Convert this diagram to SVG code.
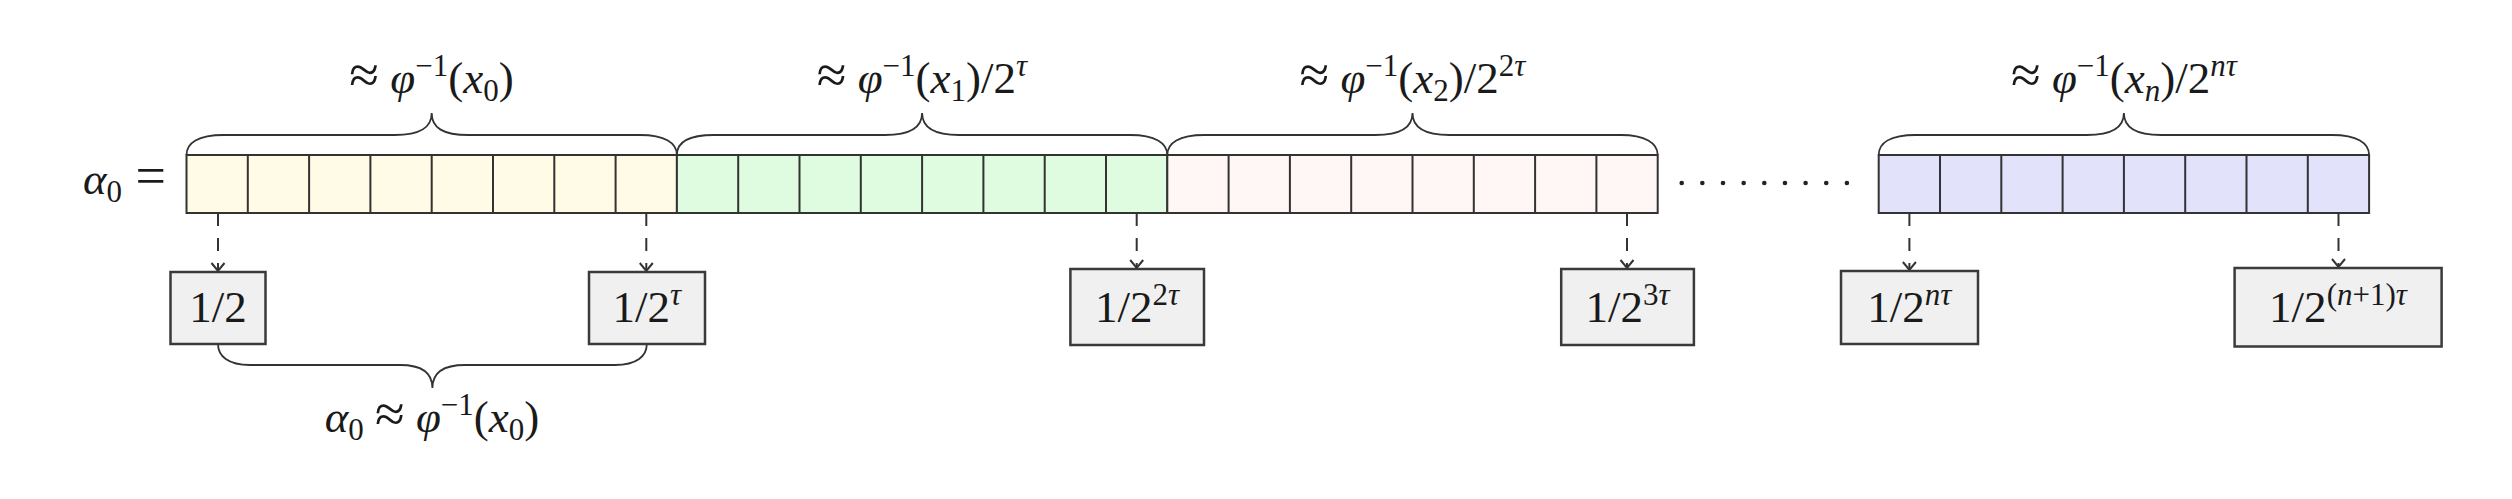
<svg xmlns="http://www.w3.org/2000/svg" width="2512" height="499" viewBox="0 0 2512 499">
<defs>
<style>
.t{font-family:"Liberation Serif","DejaVu Serif",serif;font-size:45px;fill:#1a1a1a}
.i{font-style:italic}
.s{font-size:31px}
.op{font-size:54px}
.cell{stroke:#333;stroke-width:2}
.brace{fill:none;stroke:#333;stroke-width:1.8}
.box{fill:#f0f0f0;stroke:#3a3a3a;stroke-width:2.5}
.dash{stroke:#333;stroke-width:2;stroke-dasharray:13 12;fill:none}
</style>
<marker id="chev" markerUnits="userSpaceOnUse" markerWidth="20" markerHeight="20" refX="0" refY="0" viewBox="-10 -10 20 20" orient="auto" overflow="visible">
<path d="M-8,-6.5 L0,0 L-8,6.5" fill="none" stroke="#333" stroke-width="2"/>
</marker>
</defs>
<rect width="2512" height="499" fill="#fff"/>

<g id="alpha-label">
<text class="t" x="166" y="194" text-anchor="end"><tspan class="i">α</tspan><tspan class="s" dy="8">0</tspan><tspan dy="-8" class="op"> =</tspan></text>
</g>

<g id="segment-yellow">
<rect x="186.5" y="155" width="490.4" height="58" fill="#fffbe6" class="cell"/>
<path class="cell" d="M247.8,155V213M309.1,155V213M370.4,155V213M431.7,155V213M493,155V213M554.3,155V213M615.6,155V213"/>
</g>
<g id="segment-green">
<rect x="676.9" y="155" width="490.4" height="58" fill="#e0fce0" class="cell"/>
<path class="cell" d="M738.2,155V213M799.5,155V213M860.8,155V213M922.1,155V213M983.4,155V213M1044.7,155V213M1106,155V213"/>
</g>
<g id="segment-pink">
<rect x="1167.3" y="155" width="490.4" height="58" fill="#fff6f6" class="cell"/>
<path class="cell" d="M1228.6,155V213M1289.9,155V213M1351.2,155V213M1412.5,155V213M1473.8,155V213M1535.1,155V213M1596.4,155V213"/>
</g>
<g id="dots" fill="#222">
<circle cx="1681.7" cy="183" r="2.3"/><circle cx="1702.35" cy="183" r="2.3"/><circle cx="1723" cy="183" r="2.3"/><circle cx="1743.65" cy="183" r="2.3"/><circle cx="1764.3" cy="183" r="2.3"/><circle cx="1784.95" cy="183" r="2.3"/><circle cx="1805.6" cy="183" r="2.3"/><circle cx="1826.25" cy="183" r="2.3"/><circle cx="1846.9" cy="183" r="2.3"/>
</g>
<g id="segment-blue">
<rect x="1878.7" y="155" width="490.4" height="58" fill="#e2e2fb" class="cell"/>
<path class="cell" d="M1940,155V213M2001.3,155V213M2062.6,155V213M2123.9,155V213M2185.2,155V213M2246.5,155V213M2307.8,155V213"/>
</g>

<g id="braces">
<path class="brace" d="M186.5,155 C186.5,143 198,135 223.5,135 L394.7,135 C420,135 431.7,128 431.7,113 C431.7,128 443,135 468.7,135 L639.9,135 C665,135 676.9,143 676.9,155"/>
<path class="brace" d="M676.9,155 C676.9,143 688,135 713.9,135 L885.1,135 C910,135 922.1,128 922.1,113 C922.1,128 934,135 959.1,135 L1130.3,135 C1155,135 1167.3,143 1167.3,155"/>
<path class="brace" d="M1167.3,155 C1167.3,143 1179,135 1204.3,135 L1375.5,135 C1400,135 1412.5,128 1412.5,113 C1412.5,128 1425,135 1449.5,135 L1620.7,135 C1645,135 1657.7,143 1657.7,155"/>
<path class="brace" d="M1878.7,155 C1878.7,143 1890,135 1915.7,135 L2086.9,135 C2112,135 2123.9,128 2123.9,113 C2123.9,128 2136,135 2160.9,135 L2332.1,135 C2357,135 2369.1,143 2369.1,155"/>
<path class="brace" d="M218,344 C218,356 228,365 250,365 L400,365 C422,365 432.4,373 432.4,388 C432.4,373 443,365 465,365 L614.8,365 C637,365 646.8,356 646.8,344"/>
</g>

<g id="brace-labels">
<text class="t" x="431.5" y="93" text-anchor="middle"><tspan class="op">≈</tspan> <tspan class="i">φ</tspan><tspan class="s" dy="-17">−1</tspan><tspan dy="17">(</tspan><tspan class="i">x</tspan><tspan class="s" dy="8">0</tspan><tspan dy="-8">)</tspan></text>
<text class="t" x="922" y="93" text-anchor="middle"><tspan class="op">≈</tspan> <tspan class="i">φ</tspan><tspan class="s" dy="-17">−1</tspan><tspan dy="17">(</tspan><tspan class="i">x</tspan><tspan class="s" dy="8">1</tspan><tspan dy="-8">)/2</tspan><tspan class="s i" dy="-17">τ</tspan></text>
<text class="t" x="1412.5" y="93" text-anchor="middle"><tspan class="op">≈</tspan> <tspan class="i">φ</tspan><tspan class="s" dy="-17">−1</tspan><tspan dy="17">(</tspan><tspan class="i">x</tspan><tspan class="s" dy="8">2</tspan><tspan dy="-8">)/2</tspan><tspan class="s" dy="-17">2</tspan><tspan class="s i">τ</tspan></text>
<text class="t" x="2124" y="93" text-anchor="middle"><tspan class="op">≈</tspan> <tspan class="i">φ</tspan><tspan class="s" dy="-17">−1</tspan><tspan dy="17">(</tspan><tspan class="i">x</tspan><tspan class="s i" dy="8">n</tspan><tspan dy="-8">)/2</tspan><tspan class="s i" dy="-17">nτ</tspan></text>
<text class="t" x="432" y="432" text-anchor="middle"><tspan class="i">α</tspan><tspan class="s" dy="8">0</tspan><tspan dy="-8"> </tspan><tspan class="op">≈</tspan> <tspan class="i">φ</tspan><tspan class="s" dy="-17">−1</tspan><tspan dy="17">(</tspan><tspan class="i">x</tspan><tspan class="s" dy="8">0</tspan><tspan dy="-8">)</tspan></text>
</g>

<g id="connectors">
<path class="dash" d="M218,213V271" marker-end="url(#chev)"/>
<path class="dash" d="M646.3,213V271" marker-end="url(#chev)"/>
<path class="dash" d="M1136.7,213V268" marker-end="url(#chev)"/>
<path class="dash" d="M1627,213V268" marker-end="url(#chev)"/>
<path class="dash" d="M1909.4,213V270" marker-end="url(#chev)"/>
<path class="dash" d="M2338.5,213V267" marker-end="url(#chev)"/>
</g>

<g id="node-half">
<rect class="box" x="170.5" y="272" width="95" height="72"/>
<text class="t" x="218" y="322" text-anchor="middle">1/2</text>
</g>
<g id="node-2tau">
<rect class="box" x="589" y="272" width="116" height="72"/>
<text class="t" x="646.8" y="322" text-anchor="middle">1/2<tspan class="s i" dy="-17">τ</tspan></text>
</g>
<g id="node-22tau">
<rect class="box" x="1070.4" y="269" width="133.6" height="76"/>
<text class="t" x="1137" y="322" text-anchor="middle">1/2<tspan class="s" dy="-17">2</tspan><tspan class="s i">τ</tspan></text>
</g>
<g id="node-23tau">
<rect class="box" x="1561.2" y="269" width="132.7" height="76"/>
<text class="t" x="1627.5" y="322" text-anchor="middle">1/2<tspan class="s" dy="-17">3</tspan><tspan class="s i">τ</tspan></text>
</g>
<g id="node-2ntau">
<rect class="box" x="1841" y="271" width="137" height="73"/>
<text class="t" x="1909.4" y="322" text-anchor="middle">1/2<tspan class="s i" dy="-17">nτ</tspan></text>
</g>
<g id="node-2n1tau">
<rect class="box" x="2234.6" y="268" width="207" height="78.5"/>
<text class="t" x="2338" y="322" text-anchor="middle">1/2<tspan class="s" dy="-17">(</tspan><tspan class="s i">n</tspan><tspan class="s">+1)</tspan><tspan class="s i">τ</tspan></text>
</g>
</svg>
